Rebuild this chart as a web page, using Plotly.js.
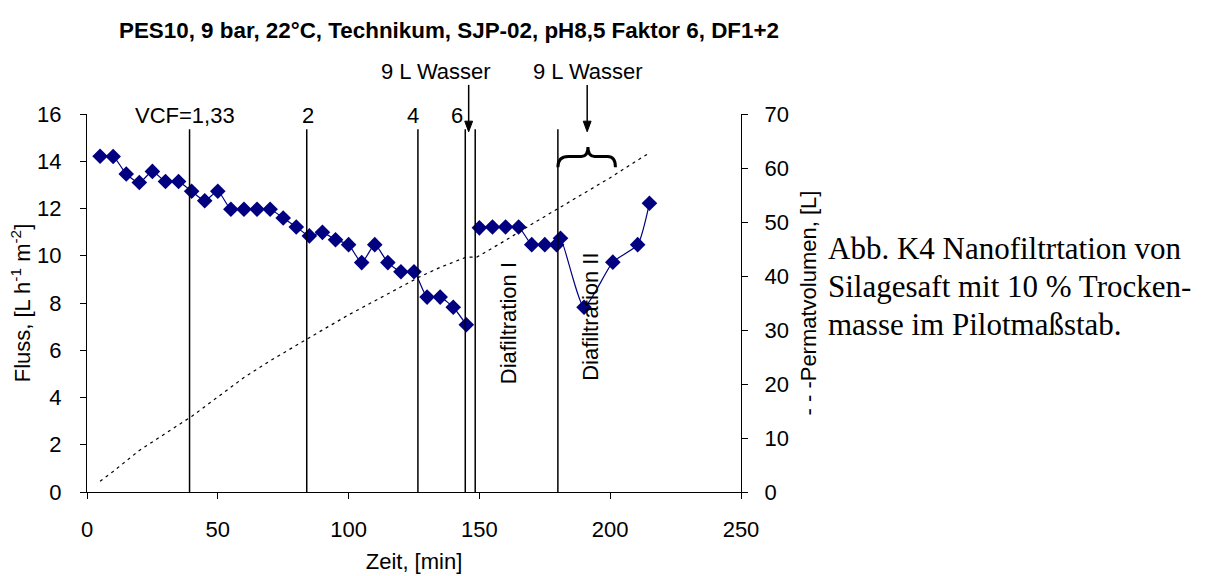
<!DOCTYPE html>
<html>
<head>
<meta charset="utf-8">
<script src="https://cdn.plot.ly/plotly-3.0.1.min.js"></script>
<style>html,body{margin:0;padding:0;background:#fff;}#chart{width:1215px;height:576px;}</style>
</head>
<body>
<div id="chart"></div>
<script>
// Flux phase 1 (concentration up to VCF 6)
const zeit1 = [5,10,15,20,25,30,35,40,45,50,55,60,65,70,75,80,85,90,95,100,105,110,115,120,125,130,135,140,145];
const fluss1 = [14.21,14.2,13.46,13.1,13.57,13.14,13.14,12.73,12.33,12.73,11.97,11.97,11.97,11.97,11.6,11.22,10.84,10.99,10.68,10.47,9.71,10.47,9.71,9.32,9.32,8.25,8.25,7.82,7.08];
// Flux phase 2 (diafiltration I + II)
const zeit2 = [150,155,160,165,170,175,179.5,181,190,201,210.5,215];
const fluss2 = [11.18,11.22,11.22,11.22,10.47,10.47,10.47,10.74,7.82,9.73,10.47,12.22];
// Permeate volume (dotted line, right axis)
const zeitVol = [5,10,20,30,40,50,60,70,80,84,90,100,110,120,127,135,145,149,160,170,180,190,200,210,215];
const permatvolumen = [2.0,3.8,7.7,10.8,14.0,17.6,21.2,24.3,27.2,28.4,30.0,32.8,35.4,38.0,39.8,41.6,43.5,43.5,46.6,49.6,52.5,55.4,58.2,61.3,62.8];
// Vertical marker lines (min)
const markerZeit = [39.2, 84, 126.5, 144.6, 148.4, 180];
const markerTop = 15.35;
// VCF labels
const vcfLabels = ['VCF=1,33','2','4','6'];
const vcfLabelZeit = [37.3, 84.6, 124.8, 141.4];
// Water additions
const wasserLabel = '9 L Wasser';
const wasserLabelZeit = [133.5, 191.5];
const wasserArrowZeit = [145.9, 191.2];
// Phase labels
const phaseLabels = ['Diafiltration I','Diafiltration II'];
const phaseZeit = [161, 192.4];
const phaseFluss = [7.15, 7.43];
// Caption
const caption = ['Abb. K4 Nanofiltrtation von','Silagesaft mit 10 % Trocken-','masse im Pilotmaßstab.'];
const captionY = [0.645, 0.543, 0.443];

const navy = '#000080';
const sans = 'Liberation Sans, Arial, sans-serif';
const serif = 'Liberation Serif, Times New Roman, serif';

const traces = [
  {x: zeitVol, y: permatvolumen, yaxis: 'y2', mode: 'lines', line: {color: '#000', width: 1.2, dash: '3px,4px'}, hoverinfo: 'skip', name: 'Permatvolumen'},
  {x: zeit1, y: fluss1, mode: 'lines+markers', line: {color: navy, width: 1.2, shape: 'spline', smoothing: 0.6}, marker: {symbol: 'diamond', size: 12, color: navy}, name: 'Fluss'},
  {x: zeit2, y: fluss2, mode: 'lines+markers', line: {color: navy, width: 1.2, shape: 'spline', smoothing: 0.55}, marker: {symbol: 'diamond', size: 12, color: navy}, name: 'Fluss DF'}
];

const shapes = markerZeit.map(t => ({type: 'line', xref: 'x', yref: 'y', x0: t, x1: t, y0: 0, y1: markerTop, line: {color: '#000', width: 1.5}}));
// curly brace over diafiltration II
shapes.push({type: 'path', xref: 'x', yref: 'y', path: 'M 180,13.75 Q 180,14.2 184,14.2 L 189,14.2 Q 191.5,14.2 191.5,14.6 Q 191.5,14.2 194,14.2 L 199,14.2 Q 202,14.2 202,13.75', line: {color: '#000', width: 3}});
// arrows for water additions (shaft + head)
const tipY = 0.953, tailY = 1.077, headLen = 0.028, headHalf = 1.5;
wasserArrowZeit.forEach(t => {
  shapes.push({type: 'line', xref: 'x', yref: 'paper', x0: t, x1: t, y0: tailY, y1: tipY + headLen, line: {color: '#000', width: 1.5}});
  shapes.push({type: 'path', xref: 'x', yref: 'paper', path: `M ${t - headHalf},${tipY + headLen} L ${t + headHalf},${tipY + headLen} L ${t},${tipY} Z`, fillcolor: '#000', line: {color: '#000', width: 1}});
});

const annotations = [];
vcfLabels.forEach((s, i) => annotations.push({x: vcfLabelZeit[i], xref: 'x', y: 0.997, yref: 'paper', text: s, showarrow: false, xanchor: 'center', yanchor: 'middle', font: {family: sans, size: 22, color: '#000'}}));
wasserLabelZeit.forEach(t => annotations.push({x: t, xref: 'x', y: 1.112, yref: 'paper', text: wasserLabel, showarrow: false, xanchor: 'center', yanchor: 'middle', font: {family: sans, size: 22, color: '#000'}}));
phaseLabels.forEach((s, i) => annotations.push({x: phaseZeit[i], xref: 'x', y: phaseFluss[i], yref: 'y', text: s, textangle: -90, showarrow: false, font: {family: sans, size: 22, color: '#000'}}));
caption.forEach((s, i) => annotations.push({x: (826 - 87) / 654, xref: 'paper', y: captionY[i], yref: 'paper', text: s, showarrow: false, xanchor: 'left', yanchor: 'middle', font: {family: serif, size: 31, color: '#000'}}));

const axisCommon = {showgrid: false, zeroline: false, showline: true, linecolor: '#000', linewidth: 1, ticks: 'outside', ticklen: 6, tickcolor: '#000', tickwidth: 1, tickfont: {family: sans, size: 22, color: '#000'}};

const layout = {
  width: 1215, height: 576,
  margin: {l: 87, r: 474, t: 114, b: 84, pad: 0},
  paper_bgcolor: '#fff', plot_bgcolor: '#fff',
  showlegend: false,
  title: {text: 'PES10, 9 bar, 22°C, Technikum, SJP-02, pH8,5 Faktor 6, DF1+2', font: {family: sans, size: 22.4, color: '#000', weight: 'bold'}, xref: 'paper', x: 0.5535, xanchor: 'center', yref: 'container', y: 0.948, yanchor: 'middle'},
  xaxis: Object.assign({}, axisCommon, {range: [0, 250], tick0: 0, dtick: 50, ticklabelstandoff: 12, title: {text: 'Zeit, [min]', font: {family: sans, size: 22, color: '#000'}, standoff: 12}}),
  yaxis: Object.assign({}, axisCommon, {range: [0, 16], tick0: 0, dtick: 2, ticklabelstandoff: 14, title: {text: 'Fluss, [L h<sup>-1</sup> m<sup>-2</sup>]', font: {family: sans, size: 22, color: '#000'}, standoff: 0}}),
  yaxis2: Object.assign({}, axisCommon, {range: [0, 70], tick0: 0, dtick: 10, overlaying: 'y', side: 'right', anchor: 'x', ticklabelstandoff: 12, title: {text: '- - -Permatvolumen, [L]', font: {family: sans, size: 22, color: '#000'}, standoff: 12}}),
  shapes: shapes,
  annotations: annotations
};

Plotly.newPlot('chart', traces, layout, {displayModeBar: false, staticPlot: true});
</script>
</body>
</html>
